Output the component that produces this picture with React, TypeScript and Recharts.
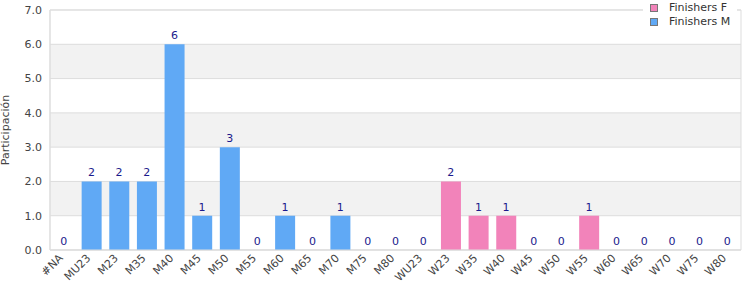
import { Bar, ComposedChart, CartesianGrid, LabelList, Line, ReferenceArea, XAxis, YAxis } from 'recharts';

const categories = [
  '#NA', 'MU23', 'M23', 'M35', 'M40', 'M45', 'M50', 'M55', 'M60', 'M65', 'M70', 'M75', 'M80',
  'WU23', 'W23', 'W35', 'W40', 'W45', 'W50', 'W55', 'W60', 'W65', 'W70', 'W75', 'W80',
];
const finishersM = [0, 2, 2, 2, 6, 1, 3, 0, 1, 0, 1, 0, 0, 0, null, null, null, null, null, null, null, null, null, null, null];
const finishersF = [null, null, null, null, null, null, null, null, null, null, null, null, null, null, 2, 1, 1, 0, 0, 1, 0, 0, 0, 0, 0];
const yTicks = [0, 1, 2, 3, 4, 5, 6, 7];

const data = categories.map((name, i) => ({
  name,
  m: finishersM[i],
  f: finishersF[i],
  total: finishersM[i] ?? finishersF[i],
}));

const FONT = "'DejaVu Sans', Verdana, sans-serif";
const BLUE = '#60a9f5';
const PINK = '#f283ba';

function XTick({ x, y, payload }: any) {
  const ax = x - 3;
  const ay = y - 2;
  return (
    <text
      x={ax}
      y={ay}
      dy="0.35em"
      transform={`rotate(-45, ${ax}, ${ay})`}
      textAnchor="end"
      fontSize={11}
      fontFamily={FONT}
      fill="#444"
    >
      {payload.value}
    </text>
  );
}

export default function App() {
  return (
    <div style={{ position: 'absolute', left: 0, top: 0, width: 750, height: 300, background: '#fff', fontFamily: FONT }}>
      <ComposedChart width={750} height={300} data={data} margin={{ top: 10, right: 9, left: 0, bottom: 0 }}>
        <CartesianGrid vertical={false} stroke="#dddddd" horizontalFill={['#ffffff', '#f2f2f2']} />
        <XAxis
          dataKey="name"
          interval={0}
          height={50}
          tick={<XTick />}
          tickLine={false}
          axisLine={{ stroke: '#dddddd' }}
        />
        <YAxis
          width={50}
          domain={[0, 7]}
          ticks={yTicks}
          tickFormatter={(v: number) => v.toFixed(1)}
          tick={{ fontSize: 11, fill: '#444', fontFamily: FONT }}
          tickLine={false}
          axisLine={{ stroke: '#dddddd' }}
          label={{ value: 'Participación', angle: -90, position: 'insideLeft', offset: 5, style: { fontSize: 11, fill: '#444', fontFamily: FONT, textAnchor: 'middle' } }}
        />
        <ReferenceArea y1={0} y2={7} fill="none" stroke="#dddddd" />
        <Bar dataKey="m" name="Finishers M" stackId="a" fill={BLUE} barSize={20} isAnimationActive={false} />
        <Bar dataKey="f" name="Finishers F" stackId="a" fill={PINK} barSize={20} isAnimationActive={false} />
        <Line
          dataKey="total"
          stroke="none"
          dot={false}
          activeDot={false}
          legendType="none"
          isAnimationActive={false}
        >
          <LabelList dataKey="total" position="top" offset={5} fill="#1a1a8c" fontSize={11} fontFamily={FONT} />
        </Line>
      </ComposedChart>
      <div
        style={{
          position: 'absolute',
          left: 643,
          top: 0,
          width: 94,
          height: 31,
          background: '#fff',
          fontSize: 11,
          color: '#333',
          lineHeight: '14px',
          paddingTop: 1,
          boxSizing: 'border-box',
        }}
      >
        {[
          { label: 'Finishers F', color: PINK },
          { label: 'Finishers M', color: BLUE },
        ].map((it) => (
          <div key={it.label} style={{ display: 'flex', alignItems: 'center', height: 14 }}>
            <span
              style={{
                display: 'inline-block',
                width: 6,
                height: 6,
                marginLeft: 7,
                marginRight: 11,
                background: it.color,
                border: '1px solid #777',
              }}
            />
            <span>{it.label}</span>
          </div>
        ))}
      </div>
    </div>
  );
}
